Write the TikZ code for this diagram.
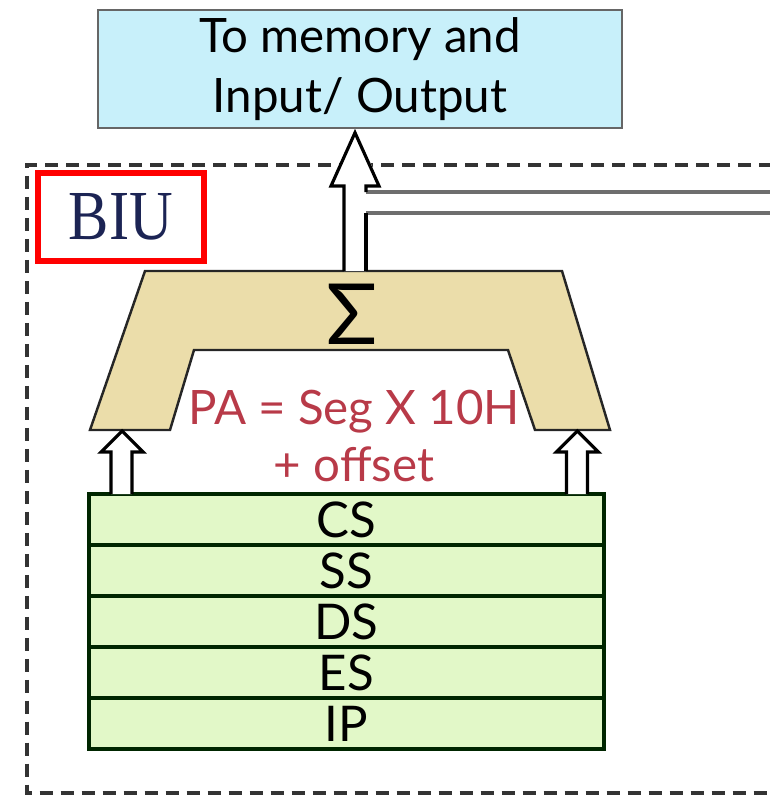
\documentclass[tikz,border=0pt]{standalone}
\usepackage{fontspec}
\setsansfont{Lato}
\newfontfamily\biufont{Liberation Serif}
\usetikzlibrary{positioning,calc}

\definecolor{memfill}{HTML}{C8F0FA}
\definecolor{sumfill}{HTML}{EBDDAA}
\definecolor{regfill}{HTML}{E2F8C8}
\definecolor{patext}{HTML}{B83A48}
\definecolor{biutext}{HTML}{1C2454}
\definecolor{busgray}{HTML}{6E6E6E}

\begin{document}
\begin{tikzpicture}[
    x=0.02cm, y=-0.02cm,
    node distance=0pt,
    membox/.style={rectangle, draw=black!60, fill=memfill, line width=0.8pt, minimum width=10.48cm, minimum height=2.36cm, align=center, font=\sffamily\fontsize{27}{34}\selectfont},
    reg/.style={rectangle, draw=black!85!green, fill=regfill, line width=2pt, minimum width=10.3cm, minimum height=1.02cm, inner sep=0pt, outer sep=0pt, font=\sffamily\fontsize{28}{28}\selectfont},
    sumshape/.style={draw=black!85, fill=sumfill, line width=1.4pt, line join=miter},
    hollow/.style={draw=black, fill=white, line width=1.8pt, line join=miter},
    bus/.style={draw=busgray, line width=2.6pt},
    biubox/.style={rectangle, draw=red, line width=0.12cm, minimum width=3.34cm, minimum height=1.78cm, text=biutext, font=\biufont\fontsize{40}{40}\selectfont},
    unitframe/.style={draw=black!80, line width=2.2pt, dash pattern=on 0.26cm off 0.16cm}
]
    \useasboundingbox (0,0) rectangle (770,801);

    % memory / IO box
    \node [membox] (mem) at (360,69) {To memory and\\Input/ Output};

    % dashed BIU frame
    \draw [unitframe] (772,165) -- (27,165) -- (27,793) -- (772,793);
    \node [biubox] (biu) at (121,217) {\scalebox{0.86}[1]{BIU}};

    % adder
    \draw [sumshape] (145,271) coordinate (sumtl) -- (562,271) -- (610,430) -- (535,430) coordinate (sumbr)
        -- (508,350) -- (194,350) -- (170,430) -- (90,430) coordinate (sumbl) -- cycle;
    \node [font=\sffamily\fontsize{48}{48}\selectfont] (sigma) at (352,314) {Σ};
    \node [text=patext, align=center, font=\sffamily\fontsize{27}{32}\selectfont] (pa) at (354,436) {PA = Seg X 10H\\+ offset};

    % segment registers
    \node [reg] (cs) at (346.5,519.5) {CS};
    \node [reg, below=of cs] (ss) {SS};
    \node [reg, below=of ss] (ds) {DS};
    \node [reg, below=of ds] (es) {ES};
    \node [reg, below=of es] (ip) {IP};

    % registers to adder
    \draw [hollow] ($(cs.north west)+(22,0)$) -- ++(0,-42) -- ++(-10,0) -- ++(21,-21) -- ++(21,21) -- ++(-11,0) -- ++(0,42);
    \draw [hollow] ($(cs.north east)+(-37.5,0)$) -- ++(0,-42) -- ++(-10,0) -- ++(21,-21) -- ++(21,21) -- ++(-11,0) -- ++(0,42);

    % adder to memory, with bus
    \coordinate (sumtop) at (344,271);
    \fill [white] (sumtop) -- ++(0,-85) -- ++(-13,0) -- (mem.south -| 355,0) -- ++(24,53) -- ++(-13,0)
        -- (366,192) -- (772,192) -- (772,213) -- (366,213) -- (366,271) -- cycle;
    \draw [bus] (366,192) -- (772,192);
    \draw [bus] (366,213) -- (772,213);
    \draw [hollow, fill=none] (sumtop) -- ++(0,-85) -- ++(-13,0) -- ($(mem.south -| 355,0)+(0,4)$) -- (379,186) -- (366,186) -- (366,192);
    \draw [hollow, fill=none] (366,213) -- (366,271);
\end{tikzpicture}
\end{document}
